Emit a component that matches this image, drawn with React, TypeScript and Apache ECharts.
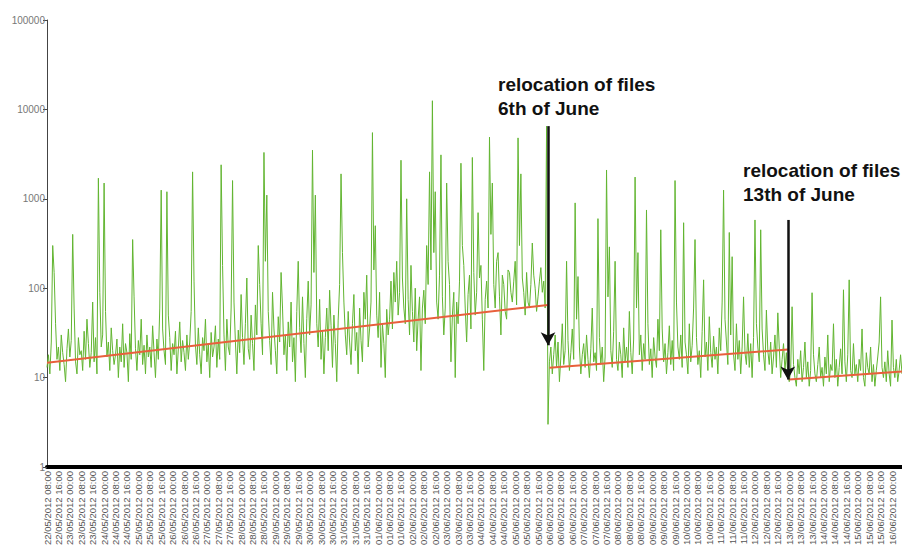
import React, { useEffect, useRef } from "react";
import * as echarts from "echarts";

// Requests per hour (log scale), 22 May 08:00 -> 6 June 00:00
const beforeFirstMove: number[] = [
  13, 18, 11, 25, 300, 150, 40, 16, 22, 12, 30, 19, 14, 9, 21, 35, 17, 26, 400, 60, 15, 11, 28, 18,
  20, 12, 33, 16, 45, 24, 13, 19, 70, 15, 28, 11, 1700, 90, 22, 30, 1500, 55, 17, 25, 12, 36, 20, 14,
  18, 27, 10, 22, 15, 40, 13, 24, 19, 9, 31, 16, 350, 80, 21, 12, 26, 18, 45, 14, 23, 11, 30, 17,
  22, 13, 38, 19, 10, 27, 16, 60, 1250, 35, 20, 14, 1200, 50, 28, 12, 24, 18, 33, 11, 21, 42, 15, 26,
  19, 12, 30, 16, 25, 55, 2000, 120, 23, 14, 36, 18, 11, 28, 20, 45, 15, 24, 10, 32, 17, 22, 38, 13,
  27, 16, 2400, 180, 30, 12, 45, 22, 18, 60, 1600, 70, 25, 11, 34, 19, 85, 28, 14, 40, 130, 21, 16, 50,
  24, 12, 65, 30, 300, 110, 40, 18, 3300, 200, 1100, 55, 26, 14, 90, 35, 20, 11, 48, 25, 150, 60, 18, 30,
  12, 42, 22, 70, 15, 28, 9, 55, 200, 36, 19, 80, 24, 10, 46, 120, 30, 65, 3500, 150, 1100, 40, 22, 75,
  16, 34, 11, 28, 60, 20, 95, 38, 13, 50, 24, 9, 44, 110, 1900, 250, 70, 30, 18, 55, 25, 14, 40, 85,
  20, 32, 11, 60, 26, 15, 90, 45, 140, 22, 35, 70, 5500, 160, 500, 50, 28, 90, 13, 40, 24, 10, 58, 30,
  45, 120, 35, 150, 70, 200, 50, 90, 2700, 130, 60, 40, 1000, 75, 30, 180, 55, 25, 100, 20, 45, 80, 12, 60,
  95, 40, 300, 110, 2000, 160, 12500, 250, 1200, 70, 45, 140, 3100, 80, 30, 60, 1500, 200, 110, 15, 50, 90, 10, 70,
  40, 120, 2500, 300, 180, 60, 25, 85, 140, 35, 2900, 150, 50, 90, 700, 130, 180, 45, 12, 75, 120, 60, 4900, 400,
  1500, 110, 60, 200, 250, 80, 30, 140, 110, 55, 45, 160, 150, 90, 70, 120, 200, 65, 4800, 300, 1900, 130, 90, 50,
  150, 70, 60, 110, 320, 140, 100, 55, 80, 120, 170, 90, 120, 60, 6500, 3,
];
// 6 June 00:00 -> 13 June 00:00
const betweenMoves: number[] = [
  15, 22, 11, 18, 30, 13, 25, 9, 17, 40, 14, 20, 200, 26, 12, 19, 35, 16, 900, 45, 135, 22, 11, 18,
  24, 13, 30, 16, 10, 21, 60, 15, 19, 12, 600, 28, 14, 22, 9, 17, 2100, 80, 290, 20, 13, 33, 200, 16,
  12, 25, 18, 10, 36, 15, 22, 13, 55, 19, 11, 27, 1750, 60, 250, 18, 30, 12, 24, 16, 750, 40, 14, 21,
  10, 28, 17, 13, 45, 20, 450, 35, 15, 24, 11, 19, 38, 14, 26, 12, 1600, 70, 22, 16, 30, 13, 540, 25,
  18, 11, 40, 15, 23, 60, 350, 28, 14, 20, 10, 33, 124, 17, 25, 12, 48, 19, 13, 29, 16, 22, 11, 36,
  20, 70, 1250, 45, 25, 14, 420, 30, 225, 18, 12, 40, 16, 26, 11, 22, 80, 19, 14, 31, 13, 24, 10, 28,
  580, 40, 22, 15, 450, 35, 18, 12, 57, 20, 14, 25, 11, 17, 30, 13, 53, 22, 10, 16, 24, 12, 19, 11,
];
// 13 June 00:00 -> 16 June 08:00
const afterSecondMove: number[] = [
  9, 12, 62, 14, 10, 8, 16, 11, 20, 9, 13, 25, 10, 15, 8, 12, 89, 18, 11, 9, 14, 22, 10, 13,
  8, 17, 11, 30, 9, 14, 12, 40, 10, 16, 8, 13, 21, 11, 96, 15, 9, 18, 124, 12, 10, 24, 11, 14,
  9, 16, 12, 35, 10, 8, 19, 13, 11, 22, 9, 14, 8, 12, 17, 25, 80, 13, 10, 15, 9, 20, 11, 8,
  44, 13, 10, 16, 9, 12, 18, 11,
];

// trend line end values per segment
const trendBefore: number[] = [14.7, 65];
const trendBetween: number[] = [12.9, 20.6];
const trendAfter: number[] = [9.5, 11.7];

// arrow top/bottom values
const arrow1: number[] = [6500, 23];
const arrow2: number[] = [580, 9.5];

const yTicks: number[] = [1, 10, 100, 1000, 10000, 100000];

const START_UTC = Date.UTC(2012, 4, 22, 8, 0);
const STEP_HOURS = 1;
const LABEL_EVERY = 8; // one label per 8 hours

const values = [...beforeFirstMove, ...betweenMoves, ...afterSecondMove];
const pad = (n: number) => (n < 10 ? "0" + n : "" + n);
const categories: string[] = values.map((_, i) => {
  const d = new Date(START_UTC + i * STEP_HOURS * 3600 * 1000);
  return (
    pad(d.getUTCDate()) + "/" + pad(d.getUTCMonth() + 1) + "/" + d.getUTCFullYear() +
    " " + pad(d.getUTCHours()) + ":" + pad(d.getUTCMinutes())
  );
});

export default function App() {
  const ref = useRef<HTMLDivElement>(null);
  useEffect(() => {
    if (!ref.current) return;
    const chart = echarts.init(ref.current, undefined, { renderer: "svg" });
    const n1 = beforeFirstMove.length;
    const n2 = betweenMoves.length;
    const n3 = afterSecondMove.length;
    const a1x = categories[n1 - 1];
    const a2x = categories[n1 + n2 - 1];
    const red = "#e8603c";
    const option = {
      animation: false,
      grid: { left: 47, right: 0, top: 20, bottom: 83, outerBoundsMode: "none", containLabel: false },
      xAxis: {
        type: "category",
        data: categories,
        boundaryGap: false,
        axisLine: { lineStyle: { color: "#000", width: 4 } },
        axisTick: { show: false },
        axisLabel: {
          interval: LABEL_EVERY - 1,
          rotate: 90,
          fontSize: 9.5,
          color: "#555",
          fontFamily: "Liberation Sans",
          margin: 4,
        },
        splitLine: { show: false },
      },
      yAxis: {
        type: "log",
        logBase: 10,
        min: yTicks[0],
        max: yTicks[yTicks.length - 1],
        axisLine: { show: true, lineStyle: { color: "#444", width: 1 } },
        axisTick: { show: true, length: 4, lineStyle: { color: "#444" } },
        axisLabel: {
          fontSize: 10,
          color: "#777",
          margin: 2,
          fontFamily: "Liberation Sans",
          formatter: (v: number) => String(Math.round(v)),
        },
        splitLine: { show: false },
        minorTick: { show: false },
      },
      series: [
        {
          type: "line",
          data: values,
          showSymbol: false,
          symbol: "none",
          lineStyle: { color: "#62b531", width: 1 },
          itemStyle: { color: "#62b531" },
          z: 2,
          markLine: {
            silent: true,
            symbol: ["none", "arrow"],
            symbolSize: [11, 13],
            label: { show: false },
            lineStyle: { color: "#111", width: 2.5, type: "solid" },
            data: [
              [{ coord: [a1x, arrow1[0]] }, { coord: [a1x, arrow1[1]] }],
              [{ coord: [a2x, arrow2[0]] }, { coord: [a2x, arrow2[1]] }],
            ],
          },
        },
        {
          type: "line",
          data: [[0, trendBefore[0]], [n1 - 1, trendBefore[1]]],
          showSymbol: false,
          symbol: "none",
          lineStyle: { color: red, width: 2 },
          z: 3,
        },
        {
          type: "line",
          data: [[n1, trendBetween[0]], [n1 + n2 - 1, trendBetween[1]]],
          showSymbol: false,
          symbol: "none",
          lineStyle: { color: red, width: 2 },
          z: 3,
        },
        {
          type: "line",
          data: [[n1 + n2, trendAfter[0]], [n1 + n2 + n3 - 1, trendAfter[1]]],
          showSymbol: false,
          symbol: "none",
          lineStyle: { color: red, width: 2 },
          z: 3,
        },
      ],
      graphic: [
        {
          type: "text",
          left: 498,
          top: 72,
          z: 10,
          style: {
            text: "relocation of files\n6th of June",
            font: 'bold 19px "Liberation Sans", Arial, sans-serif',
            fill: "#111",
            lineHeight: 24,
          },
        },
        {
          type: "text",
          left: 743,
          top: 158,
          z: 10,
          style: {
            text: "relocation of files\n13th of June",
            font: 'bold 19px "Liberation Sans", Arial, sans-serif',
            fill: "#111",
            lineHeight: 24,
          },
        },
      ],
    };
    chart.setOption(option as any);
    return () => chart.dispose();
  }, []);
  return (
    <div
      ref={ref}
      style={{ position: "absolute", left: 0, top: 0, width: 902, height: 550, background: "#fff" }}
    />
  );
}
